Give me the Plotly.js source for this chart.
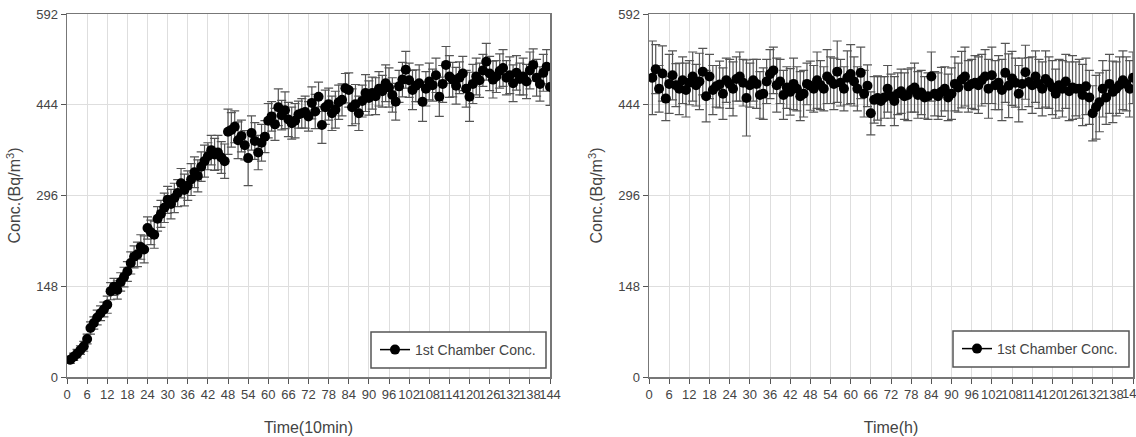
<!DOCTYPE html>
<html>
<head>
<meta charset="utf-8">
<script src="https://cdn.plot.ly/plotly-3.0.1.min.js"></script>
<style>
  html, body { margin: 0; padding: 0; background: #fff; }
  #chart { width: 1136px; height: 437px; }
</style>
</head>
<body>
<div id="chart"></div>
<script>
// Sampling steps 1..144 for both panels
const steps = Array.from({length: 144}, (_, i) => i + 1);

// Build-up run, 10-minute intervals (Bq/m3)
const buildupConc = [
  28, 33, 38, 44, 50, 62, 80, 88, 97, 104,
  110, 118, 140, 147, 142, 155, 163, 172, 186, 196,
  200, 212, 208, 243, 236, 232, 258, 266, 276, 289,
  282, 292, 300, 316, 305, 312, 322, 334, 328, 343,
  352, 360, 370, 363, 366, 358, 352, 400, 403, 408,
  386, 393, 378, 357, 398, 385, 366, 382, 392, 418,
  425, 412, 440, 427, 435, 420, 414, 418, 428, 430,
  432, 425, 447, 433, 457, 411, 440, 445, 430, 436,
  448, 452, 471, 468, 440, 445, 430, 450, 463, 455,
  463, 458, 470, 466, 479, 472, 460, 449, 474, 485,
  501, 484, 468, 475, 479, 449, 470, 482, 476, 492,
  457, 478, 509, 490, 485, 475, 488, 495, 470, 457,
  478, 490, 484, 500, 514, 495, 485, 490, 499, 504,
  488, 492, 479, 496, 486, 490, 482, 500, 509, 488,
  478, 496, 506, 473
];
const buildupErr = [
  6, 6, 7, 7, 8, 8, 10, 10, 12, 12,
  12, 14, 14, 14, 15, 15, 16, 16, 18, 18,
  20, 20, 22, 18, 20, 22, 20, 22, 24, 22,
  24, 24, 22, 24, 26, 24, 26, 25, 26, 24,
  26, 22, 24, 26, 28, 26, 28, 37, 28, 26,
  30, 26, 24, 45, 28, 30, 28, 30, 26, 28,
  24, 26, 30, 24, 30, 28, 26, 28, 22, 24,
  26, 24, 26, 28, 24, 30, 28, 26, 28, 30,
  28, 26, 24, 28, 30, 32, 28, 26, 30, 28,
  26, 30, 28, 26, 30, 32, 28, 30, 26, 28,
  30, 28, 32, 26, 30, 32, 28, 30, 26, 28,
  32, 30, 30, 34, 28, 30, 26, 28, 30, 40,
  32, 30, 28, 26, 30, 28, 30, 26, 28, 30,
  28, 30, 30, 28, 26, 30, 28, 30, 26, 30,
  28, 30, 28, 30
];

// Steady-state run, hourly (Bq/m3)
const steadyConc = [
  488, 502, 470, 495, 454, 478, 492, 476, 470, 484,
  468, 480, 490, 476, 482, 498, 458, 490, 468, 474,
  477, 462, 484, 478, 470, 486, 490, 480, 455, 476,
  484, 478, 460, 462, 482, 494, 500, 476, 482, 460,
  472, 465, 478, 470, 458, 462, 478, 475, 470, 484,
  476, 470, 490, 484, 478, 498, 480, 470, 488, 494,
  482, 470, 496, 462, 475, 430, 452, 455, 450, 456,
  470, 458, 450, 462, 466, 458, 460, 468, 472, 460,
  464, 456, 458, 490, 462, 458, 465, 470, 456, 462,
  478, 472, 485, 490, 474, 478, 480, 476, 484, 490,
  470, 492, 476, 480, 468, 496, 475, 487, 480, 462,
  478, 497, 481, 476, 490, 478, 470, 486, 480, 472,
  462, 476, 470, 482, 466, 472, 470, 470, 460, 474,
  456, 430, 440, 448, 470, 456, 478, 465, 470, 476,
  484, 478, 470, 488
];
const steadyErr = [
  60, 40, 38, 45, 36, 48, 40, 35, 42, 38,
  44, 36, 40, 34, 46, 38, 42, 36, 40, 34,
  38, 42, 36, 40, 44, 36, 40, 38, 62, 36,
  34, 40, 38, 42, 36, 40, 38, 44, 36, 40,
  34, 38, 42, 36, 40, 38, 34, 40, 38, 46,
  40, 36, 44, 38, 42, 50, 38, 36, 44, 48,
  40, 36, 42, 38, 34, 35, 38, 36, 40, 34,
  38, 36, 40, 34, 36, 38, 42, 36, 40, 38,
  36, 34, 38, 40, 36, 38, 40, 36, 38, 42,
  44, 40, 46, 48, 42, 40, 44, 46, 42, 44,
  48, 46, 40, 44, 50, 48, 52, 44, 40, 46,
  42, 44, 40, 46, 42, 40, 44, 46, 42, 44,
  40, 42, 46, 44, 48, 52, 44, 48, 50, 46,
  44, 45, 52, 48, 46, 44, 48, 50, 44, 46,
  48, 44, 46, 42
];

const yTicks = [0, 148, 296, 444, 592];
const xTickStep = 6;
const xMax = 144;
const seriesName = '1st Chamber Conc.';
const yLabel = 'Conc.(Bq/m<sup>3</sup>)';

const W = 1136, H = 437;
const fontFam = 'Liberation Sans, Arial, sans-serif';
const textColor = '#444';
const tickSize = 13;
const titleSize = 16;

// Data points with error bars (legend entry is drawn by a separate swatch trace)
function dataTrace(y, err, xa, ya) {
  return {
    x: steps, y: y, xaxis: xa, yaxis: ya,
    type: 'scatter', mode: 'markers', name: seriesName, showlegend: false,
    marker: {color: '#000', size: 10, symbol: 'circle'},
    error_y: {type: 'data', array: err, visible: true, color: '#555', thickness: 1.2, width: 4.5}
  };
}
// Legend swatch: line through a filled circle
function swatchTrace(xa, ya, legendId) {
  return {
    x: [null], y: [null], xaxis: xa, yaxis: ya, legend: legendId,
    type: 'scatter', mode: 'lines+markers', name: seriesName, showlegend: true,
    line: {color: '#000', width: 1.5},
    marker: {color: '#000', size: 10, symbol: 'circle'}
  };
}

const traces = [
  dataTrace(buildupConc, buildupErr, 'x', 'y'),
  dataTrace(steadyConc, steadyErr, 'x2', 'y2'),
  swatchTrace('x', 'y', 'legend'),
  swatchTrace('x2', 'y2', 'legend2')
];

function xAxis(title, domain, anchor) {
  return {
    domain: domain, anchor: anchor, range: [0, xMax], dtick: xTickStep, tick0: 0,
    tickangle: 0, ticks: 'outside', ticklen: 5, tickwidth: 1, tickcolor: '#555',
    showline: true, mirror: true, linecolor: '#777', linewidth: 1.5,
    showgrid: true, gridcolor: '#dedede', gridwidth: 1, zeroline: false,
    tickfont: {family: fontFam, size: tickSize, color: textColor},
    title: {text: title, font: {family: fontFam, size: titleSize, color: textColor}, standoff: 20},
    automargin: false, fixedrange: true
  };
}
function yAxis(domain, anchor) {
  return {
    domain: domain, anchor: anchor, range: [0, 592], tickvals: yTicks,
    ticks: 'outside', ticklen: 5, tickwidth: 1, tickcolor: '#555',
    showline: true, mirror: true, linecolor: '#777', linewidth: 1.5,
    showgrid: true, gridcolor: '#dedede', gridwidth: 1, zeroline: false,
    tickfont: {family: fontFam, size: tickSize, color: textColor},
    title: {text: yLabel, font: {family: fontFam, size: titleSize, color: textColor}, standoff: 11},
    automargin: false, fixedrange: true
  };
}

const yDom = [(H - 377) / H, (H - 14) / H];
const x1Dom = [67 / W, 550 / W];
const x2Dom = [649 / W, 1133 / W];

const legendStyle = {
  bgcolor: 'rgba(0,0,0,0)', borderwidth: 0,
  font: {family: fontFam, size: 14, color: textColor},
  xanchor: 'left', yanchor: 'middle', xref: 'paper', yref: 'paper',
  itemclick: false, itemdoubleclick: false
};

// Legend frames
function frame(x0, x1, y0, y1) {
  return {
    type: 'rect', xref: 'paper', yref: 'paper', layer: 'above',
    x0: x0 / W, x1: x1 / W, y0: (H - y1) / H, y1: (H - y0) / H,
    line: {color: '#555', width: 1.5}, fillcolor: '#fff'
  };
}

const layout = {
  width: W, height: H,
  margin: {l: 0, r: 0, t: 0, b: 0},
  paper_bgcolor: '#fff', plot_bgcolor: '#fff',
  showlegend: true,
  xaxis: xAxis('Time(10min)', x1Dom, 'y'),
  yaxis: yAxis(yDom, 'x'),
  xaxis2: xAxis('Time(h)', x2Dom, 'y2'),
  yaxis2: yAxis(yDom, 'x2'),
  shapes: [frame(371, 546, 332, 368), frame(953, 1129, 331, 367)],
  legend: Object.assign({}, legendStyle, {x: 375 / W, y: (H - 350) / H}),
  legend2: Object.assign({}, legendStyle, {x: 957 / W, y: (H - 349) / H}),
  // last tick label of the right panel runs past the page edge
  annotations: [{
    xref: 'x2', yref: 'paper', x: xMax, y: (H - 393) / H, yanchor: 'middle',
    text: String(xMax), showarrow: false,
    font: {family: fontFam, size: tickSize, color: textColor}
  }]
};

Plotly.newPlot('chart', traces, layout, {staticPlot: true, displayModeBar: false});
</script>
</body>
</html>
